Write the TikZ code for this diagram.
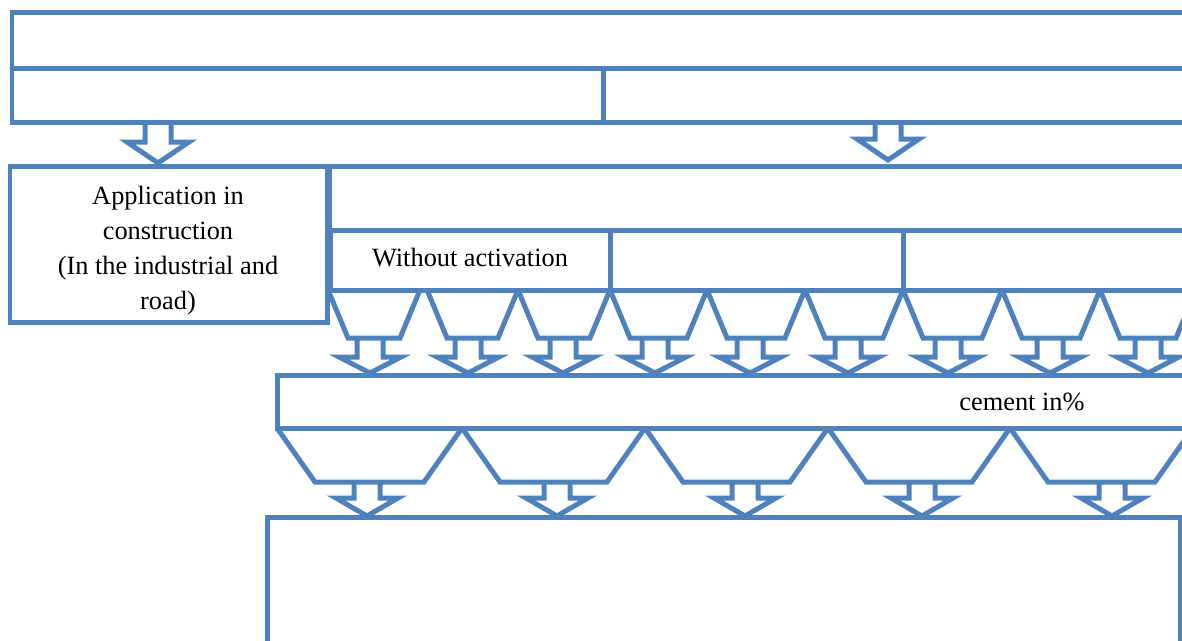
\documentclass[tikz,border=0pt]{standalone}
\usepackage{fontspec}
\setmainfont{Liberation Serif}
\usetikzlibrary{calc}
\definecolor{frame}{HTML}{4F81BD}
\tikzset{box/.style={draw=frame, line width=0.1cm, line join=miter}}
\tikzset{l/.style={font=\fontsize{15}{19.9}\selectfont}}
% hollow block arrow: x, shaft top, head top, tip
\newcommand{\blockdown}[4]{%
  \draw[box] (#1-13,#2) -- (#1-13,#3) -- (#1-31,#3) -- (#1,#4)
    -- (#1+31,#3) -- (#1+13,#3) -- (#1+13,#2);}

\begin{document}
\begin{tikzpicture}[x=0.02cm, y=-0.02cm]
        \useasboundingbox (0,0) rectangle (1182,640);
        \clip (0,0) rectangle (1182,640);
        % upper boxes
        \draw[box] (12,12) rectangle (1200,68);
        \draw[box] (12,68) rectangle (603,122);
        \draw[box] (603,68) rectangle (1200,122);
        \blockdown{158}{122}{142}{163}
        \blockdown{888}{122}{139}{160}
        % second level
        \draw[box] (10,166) rectangle (327,322);
        \node[l, align=center] (app) at (168,251)
          {Application in\\construction\\(In the industrial and\\road)};
        \draw[box] (329,166) rectangle (1200,230);
        \draw[box] (330,230) rectangle (610,290);
        \node[l] (noact) at (470,258) {Without activation};
        \draw[box] (610,230) rectangle (903,290);
        \draw[box] (903,230) rectangle (1200,290);
        % first row of funnels
        \foreach \a/\b/\x in {328/420/370, 427/518/468, 518/610/563,
            610/707/655, 707/805/750, 805/903/848, 903/1002/948,
            1002/1100/1050, 1100/1196/1148} {
          \draw[box] (\a,290) -- (\a+20,338) -- (\b-20,338) -- (\b,290);
          \blockdown{\x}{338}{357}{373}
        }
        % cement box
        \draw[box] (277,375) rectangle (1200,428);
        \node[l] (cement) at (1022,402) {cement in\%};
        % second row of funnels
        \foreach \a/\b/\x in {277/462/367, 462/645/557, 645/828/745,
            828/1010/922, 1010/1193/1112} {
          \draw[box] (\a,428) -- (\a+38,482) -- (\b-38,482) -- (\b,428);
          \blockdown{\x}{482}{498}{516}
        }
        % result box
        \draw[box] (267,517) rectangle (1180,700);
      \end{tikzpicture}
\end{document}
